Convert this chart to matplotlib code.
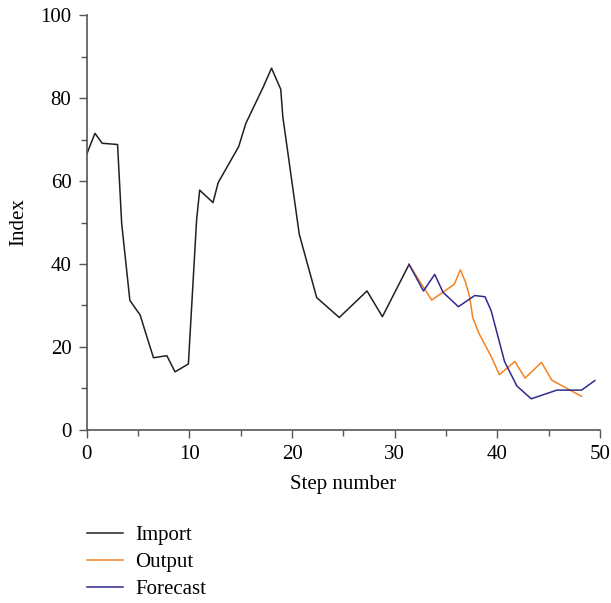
import matplotlib
matplotlib.use("Agg")
import matplotlib.pyplot as plt
from matplotlib.ticker import MultipleLocator

plt.rcParams['font.family'] = ['Liberation Serif', 'DejaVu Serif']

import_x = [0, 0.8, 1.5, 3.0, 3.4, 4.2, 5.2, 5.7, 6.5, 7.8, 8.6, 9.9, 10.7, 11.0, 12.3,
            12.8, 14.8, 15.5, 17.2, 18.0, 18.9, 19.1, 20.7, 21.8, 22.4, 24.6, 27.3,
            28.8, 31.4]
import_y = [66.5, 71.5, 69.1, 68.8, 49.8, 31.2, 27.7, 23.7, 17.4, 17.9, 14.0, 15.9, 50.6,
            57.8, 54.8, 59.6, 68.3, 73.9, 82.7, 87.2, 82.1, 75.5, 47.2, 37.3, 31.9, 27.1,
            33.5, 27.3, 39.9]

output_x = [31.4, 33.6, 35.8, 36.4, 36.9, 37.3, 37.6, 38.2, 39.4, 40.2, 41.7, 42.7, 44.3,
            45.3, 48.2]
output_y = [39.9, 31.3, 35.1, 38.6, 35.6, 32.1, 27.1, 23.3, 17.7, 13.3, 16.5, 12.5, 16.3,
            12.0, 8.1]

forecast_x = [31.4, 32.8, 33.9, 34.7, 36.2, 37.8, 38.8, 39.4, 40.7, 41.9, 43.3, 45.8,
              48.2, 49.5]
forecast_y = [39.9, 33.5, 37.5, 33.2, 29.7, 32.4, 32.1, 28.7, 16.5, 10.6, 7.5, 9.6,
              9.6, 11.9]

fig = plt.figure(figsize=(6.11, 6.03), dpi=100)
ax = fig.add_axes([0.142, 0.287, 0.840, 0.688])

l1, = ax.plot(import_x, import_y, color='#231f20', lw=1.1, label='Import')
l2, = ax.plot(output_x, output_y, color='#f58220', lw=1.1, label='Output')
l3, = ax.plot(forecast_x, forecast_y, color='#2e2a8f', lw=1.1, label='Forecast')

ax.set_xlim(0, 50)
ax.set_ylim(0, 100)
ax.xaxis.set_major_locator(MultipleLocator(10))
ax.xaxis.set_minor_locator(MultipleLocator(5))
ax.yaxis.set_major_locator(MultipleLocator(20))
ax.yaxis.set_minor_locator(MultipleLocator(10))
for s in ['top', 'right']:
    ax.spines[s].set_visible(False)
for s in ['left', 'bottom']:
    ax.spines[s].set_color('#555555')
    ax.spines[s].set_linewidth(1.2)
ax.tick_params(which='both', direction='out', color='#555555', width=1.0,
               labelsize=15, pad=5)
ax.tick_params(which='major', length=6)
ax.tick_params(which='minor', length=4)
ax.set_xlabel('Step number', fontsize=15, labelpad=8)
ax.set_ylabel('Index', fontsize=15, labelpad=9)

fig.legend(handles=[l1, l2, l3], loc='upper left', bbox_to_anchor=(0.129, 0.142),
           frameon=False, fontsize=15, handlelength=1.7, handletextpad=0.6,
           labelspacing=0.36, borderaxespad=0)

fig.savefig('out.png', dpi=100)
